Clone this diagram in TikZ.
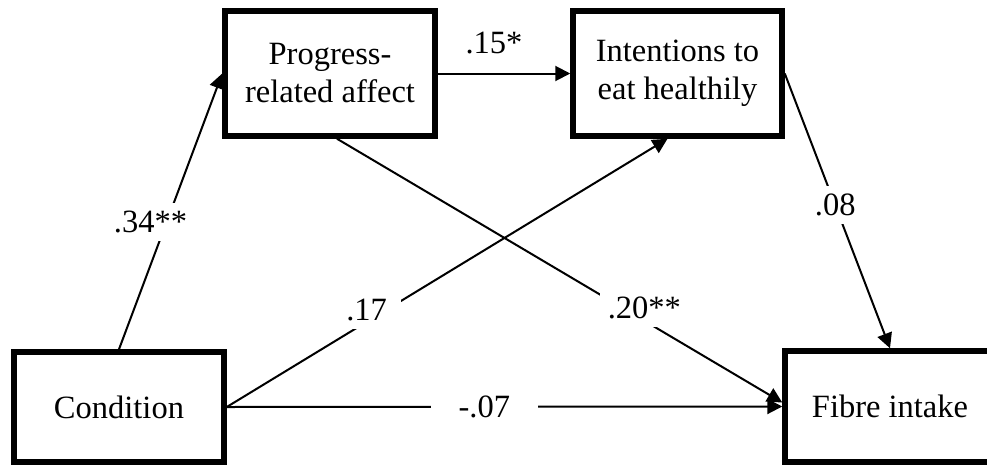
\documentclass[tikz,border=0pt]{standalone}
\usepackage{fontspec}
\setmainfont{Liberation Serif}
\usetikzlibrary{%
	arrows.meta,%
	positioning,%
}
\tikzset{
	>={Triangle[length=15pt,width=15pt]},%
	nodes={align=center},%
	varnode/.style={%
			draw,%
			rectangle,%
			line width=5.5pt,%
			minimum width=210pt,%
			inner sep=0pt,%
			fill=white},%
	pathline/.style={%
			->,%
			line width=2pt},%
	coef/.style={%
			fill=white,%
			inner sep=8pt},%
}

\begin{document}
\begin{tikzpicture}[x=1pt, y=-1pt, nodes={font={\fontsize{32.5}{38}\selectfont}}]%
	\useasboundingbox (0,0) rectangle (987,466);

	\node[varnode, minimum height=110pt] (condition) at (119,407) {Condition};

	\node[varnode, minimum height=125pt] (progress) at (330,73.5) {Progress-\\related affect};

	\node[varnode, minimum height=125pt, minimum width=209pt] (intention) at (677.5,73.5) {Intentions to\\eat healthily};

	\node[varnode, minimum height=111pt] (fibre) at (890,406.5) {Fibre intake};

	\draw[pathline] (condition.north) to node[coef, pos=0.46, xshift=-16pt] {.34**} (progress.west);
	\draw[pathline] (progress) to node[above=13pt, inner sep=6pt, xshift=-10pt] {.15*} (intention);
	\draw[pathline] (intention.east) to node[coef, pos=0.48] {.08} (fibre.north);
	\draw[pathline] ([xshift=7pt]progress.south) to node[coef, pos=0.65, xshift=18pt, yshift=2pt] {.20**} ([yshift=4pt]fibre.west);
	\draw[pathline] (condition.east) to node[coef, pos=0.34, inner xsep=14pt, xshift=-10pt, yshift=6pt] {.17} ([xshift=-10pt]intention.south);
	\draw[pathline] (condition.east) to node[coef, pos=0.48, inner xsep=28pt, xshift=-9pt] {-.07} (fibre.west);
\end{tikzpicture}
\end{document}
